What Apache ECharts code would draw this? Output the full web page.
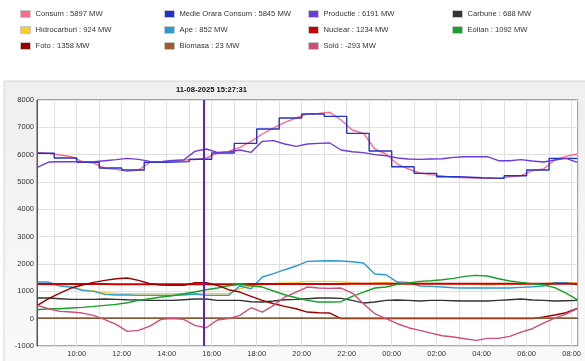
<!DOCTYPE html>
<html><head><meta charset="utf-8">
<script src="https://cdn.jsdelivr.net/npm/echarts@6/dist/echarts.min.js"></script>
<style>html,body{margin:0;padding:0;background:#fff}#c{width:585px;height:361px}</style>
</head><body><div id="c"></div>
<script>
const FONT = "'Liberation Sans', Arial, sans-serif";
const titleText = '11-08-2025 15:27:31';
const cursorTime = '15:38';
const times = ['08:15','08:45','09:15','09:45','10:15','10:45','11:15','11:45','12:15','12:45','13:15','13:45','14:15','14:45','15:15','15:45','16:15','16:45','17:15','17:45','18:15','18:45','19:15','19:45','20:15','20:45','21:15','21:45','22:15','22:45','23:15','23:45','00:15','00:45','01:15','01:45','02:15','02:45','03:15','03:45','04:15','04:45','05:15','05:45','06:15','06:45','07:15','07:45','08:15'];
const medieTimes = ['08:15','09:00','10:00','11:00','12:00','13:00','14:00','15:00','16:00','17:00','18:00','19:00','20:00','21:00','22:00','23:00','00:00','01:00','02:00','03:00','04:00','05:00','06:00','07:00','08:00','08:15'];

const consum = [6085,6048,5987,5926,5743,5695,5500,5463,5390,5438,5720,5743,5768,5804,5817,5878,6060,6122,6268,6488,6756,6976,7183,7342,7490,7512,7550,7268,6902,6780,6207,6024,5658,5475,5329,5268,5219,5170,5158,5146,5133,5133,5194,5231,5414,5475,5804,5939,6024];
const medie = [6050,5878,5720,5512,5438,5720,5745,5830,6060,6414,6940,7342,7490,7400,6780,6134,5560,5316,5194,5158,5133,5230,5438,5865,5860,5860];
const productie = [5536,5731,5743,5743,5743,5743,5780,5817,5865,5829,5756,5743,5792,5804,6122,6207,6085,6097,6170,6085,6488,6512,6390,6305,6390,6414,6427,6170,6109,6073,6000,5963,5878,5841,5829,5841,5853,5902,5926,5926,5926,5780,5780,5817,5768,5731,5804,5865,5719];
const carbune = [754,754,730,706,706,706,718,706,693,681,669,669,669,693,718,718,669,669,669,620,608,645,693,706,730,754,754,742,669,571,608,669,681,669,645,669,669,657,645,645,645,669,693,718,681,669,645,657,669];
const hidrocarburi = [1279,1242,1218,1157,1059,1011,950,925,913,913,913,913,913,913,913,925,913,913,1096,1194,1242,1279,1304,1316,1364,1364,1364,1352,1304,1279,1304,1328,1279,1279,1291,1279,1279,1279,1279,1279,1230,1255,1279,1279,1279,1279,1304,1304,1304];
const ape = [1340,1340,1194,1157,1035,998,889,864,864,852,852,852,852,864,901,852,852,852,1194,1096,1523,1645,1791,1926,2096,2109,2121,2109,2084,2035,1633,1608,1340,1328,1194,1182,1157,1133,1121,1121,1121,1121,1121,1145,1169,1194,1316,1316,1243];
const nuclear = [1267,1267,1267,1267,1267,1267,1267,1260,1260,1260,1260,1260,1255,1255,1255,1255,1260,1260,1260,1265,1265,1265,1270,1270,1270,1270,1270,1270,1275,1275,1275,1275,1275,1280,1280,1280,1280,1280,1280,1280,1280,1280,1280,1280,1280,1280,1280,1280,1280];
const eolian = [327,364,364,388,413,449,486,523,584,669,730,791,840,913,974,1059,1121,1206,1255,1206,1157,1011,876,767,669,608,608,620,815,974,1121,1157,1255,1304,1364,1389,1425,1474,1547,1584,1560,1462,1377,1328,1279,1242,1133,938,693];
const foto = [486,730,937,1121,1230,1328,1401,1462,1486,1401,1279,1230,1218,1218,1316,1316,1218,1059,974,815,669,547,449,364,242,218,205,0,0,0,0,0,0,0,0,0,0,0,0,0,0,0,0,0,0,60,132,218,376];
const biomasa = [23,23,23,23,23,23,23,23,23,23,23,23,23,23,23,23,23,23,23,23,23,23,23,23,23,23,23,23,23,23,23,23,23,23,23,23,23,23,23,23,23,23,23,23,23,23,23,23,23];
const sold = [486,364,267,242,205,120,-38,-209,-465,-429,-270,-26,0,-26,-246,-331,-50,0,120,401,242,486,791,974,1157,1121,1108,1121,938,547,181,0,-185,-331,-429,-527,-624,-673,-734,-795,-722,-722,-649,-490,-368,-160,23,169,364];

const seriesNames = ['Consum','Medie Orara Consum','Productie','Carbune','Hidrocarburi','Ape','Nuclear','Eolian','Foto','Biomasa','Sold'];
const legendValues = [5897,5845,6191,688,924,852,1234,1092,1358,23,-293];
const seriesColors = ['#ff6b8b','#2233cc','#6d3bd9','#333333','#ffcc22','#2b9bd3','#cc0000','#16a025','#990000','#a05a2c','#d14d78'];
const legendColumns = [['Consum','Hidrocarburi','Foto'],['Medie Orara Consum','Ape','Biomasa'],['Productie','Nuclear','Sold'],['Carbune','Eolian']];
const legendLeft = [20,164,308,452];

function toTs(list){
  let day = 11, prev = -1;
  return list.map(s => {
    const [h,m] = s.split(':').map(Number);
    const mins = h*60+m;
    if (mins < prev) day++;
    prev = mins;
    return new Date(2025,7,day,h,m).getTime();
  });
}
const tsMain = toTs(times);
const tsMedie = toTs(medieTimes);
const xMin = new Date(2025,7,11,8,14).getTime();
const xMax = new Date(2025,7,12,8,17).getTime();
const cursorTs = toTs([cursorTime])[0];

const valuesByName = {'Consum':consum,'Medie Orara Consum':medie,'Productie':productie,'Carbune':carbune,'Hidrocarburi':hidrocarburi,'Ape':ape,'Nuclear':nuclear,'Eolian':eolian,'Foto':foto,'Biomasa':biomasa,'Sold':sold};

const series = seriesNames.map((n,i) => {
  const vals = valuesByName[n];
  const xs = n === 'Medie Orara Consum' ? tsMedie : tsMain;
  const s = {
    name: n, type: 'line', symbol: 'none', showSymbol: false,
    color: seriesColors[i],
    lineStyle: {width: n === 'Nuclear' ? 2 : 1.4, color: seriesColors[i]},
    data: vals.map((v,k) => [xs[k], v]),
    animation: false, z: 2
  };
  if (n === 'Medie Orara Consum') s.step = 'end';
  if (n === 'Sold') {
    s.markLine = {silent: true, symbol: ['none','none'], label: {show: false}, animation: false,
      lineStyle: {color: '#5b21d4', width: 2, type: 'solid'}, data: [{xAxis: cursorTs}]};
  }
  return s;
});

const chart = echarts.init(document.getElementById('c'), null, {renderer: 'canvas'});
chart.setOption({
  animation: false,
  textStyle: {fontFamily: FONT},
  graphic: [{
    type: 'rect', z: -10, silent: true,
    shape: {x: 4, y: 81, width: 640, height: 320},
    style: {
      fill: new echarts.graphic.LinearGradient(0,0,0,1,[{offset:0,color:'#efefef'},{offset:1,color:'#fbfbfb'}]),
      stroke: '#d6d6d6', lineWidth: 1
    }
  }],
  title: {text: titleText, left: 176, top: 86, padding: 0,
    textStyle: {fontSize: 7.6, fontWeight: 'bold', color: '#111', fontFamily: FONT}},
  legend: legendColumns.map((col,i) => ({
    data: col.map(n => ({name: n, icon: 'rect'})),
    left: legendLeft[i], top: 10, orient: 'vertical',
    itemWidth: 10, itemHeight: 7, itemGap: 8, padding: 0, selectedMode: false,
    formatter: n => n + ' : ' + legendValues[seriesNames.indexOf(n)] + ' MW',
    textStyle: {fontSize: 7.6, color: '#333', fontFamily: FONT, lineHeight: 8},
    itemStyle: {borderColor: '#c8c8c8', borderWidth: 1}
  })),
  grid: {left: 37, top: 100, right: 7, bottom: 15, show: true, backgroundColor: '#fff', borderColor: '#555', borderWidth: 1},
  xAxis: {
    type: 'time', min: xMin, max: xMax, minInterval: 7200000, maxInterval: 7200000,
    axisLine: {show: true, lineStyle: {color: '#555'}},
    axisTick: {show: false},
    splitLine: {show: true, lineStyle: {color: '#e0e0e0'}},
    axisLabel: {
      color: '#333', fontSize: 7.5, margin: 4, hideOverlap: false, fontFamily: FONT,
      formatter: v => { const d = new Date(v); if (d.getMinutes() !== 0 || d.getHours() % 2 !== 0) return ''; return String(d.getHours()).padStart(2,'0') + ':00'; }
    }
  },
  yAxis: {
    type: 'value', min: -1000, max: 8000, interval: 1000,
    axisLine: {show: true, lineStyle: {color: '#555'}},
    axisTick: {show: false},
    splitLine: {show: true, lineStyle: {color: '#e0e0e0'}},
    axisLabel: {color: '#333', fontSize: 7.5, margin: 3, fontFamily: FONT, formatter: v => String(v)}
  },
  series: series
});
</script></body></html>
